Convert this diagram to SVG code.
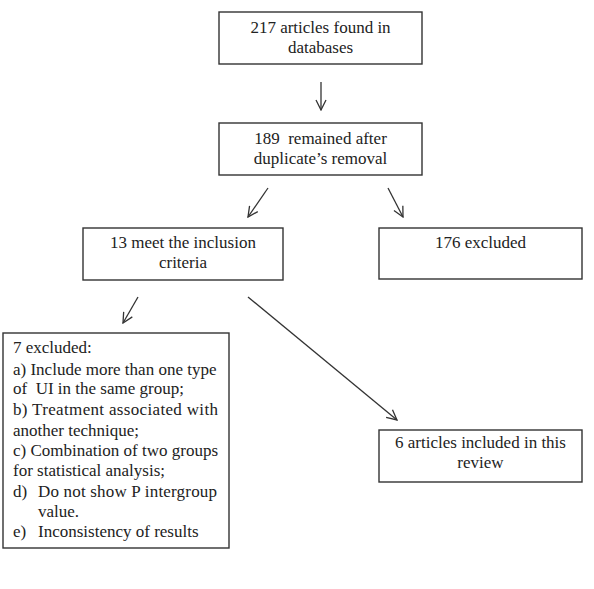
<svg xmlns="http://www.w3.org/2000/svg" width="594" height="589" viewBox="0 0 594 589">
<style>
.box{fill:#fff;stroke:#333;stroke-width:1.4}
.t{font-family:'Liberation Serif','Times New Roman','DejaVu Serif',serif;font-size:17px;fill:#222}
.c{text-anchor:middle}
.conn{stroke:#333;stroke-width:1.3;fill:none;marker-end:url(#arr)}
</style>
<defs>
<marker id="arr" viewBox="0 0 12 12" refX="11" refY="6" markerWidth="12" markerHeight="12" markerUnits="userSpaceOnUse" orient="auto">
<path d="M1,1 L11,6 L1,11" fill="none" stroke="#333" stroke-width="1.3"/>
</marker>
</defs>
<rect width="594" height="589" fill="#fff"/>
<g id="connectors">
<line class="conn" x1="321" y1="82" x2="321" y2="110"/>
<line class="conn" x1="268" y1="188" x2="248" y2="217"/>
<line class="conn" x1="388" y1="188" x2="403" y2="217"/>
<line class="conn" x1="138" y1="297" x2="123" y2="323"/>
<line class="conn" x1="248" y1="297" x2="397" y2="420"/>
</g>
<g id="n1">
<rect class="box" x="219" y="12" width="203" height="52"/>
<text class="t c" x="320.5" y="33">217 articles found in</text>
<text class="t c" x="320.5" y="53">databases</text>
</g>
<g id="n2">
<rect class="box" x="219" y="123" width="203" height="52"/>
<text class="t c" x="320.5" y="144">189&#160; remained after</text>
<text class="t c" x="320.5" y="164">duplicate’s removal</text>
</g>
<g id="n3">
<rect class="box" x="83" y="228" width="200" height="52"/>
<text class="t c" x="183" y="248">13 meet the inclusion</text>
<text class="t c" x="183" y="268">criteria</text>
</g>
<g id="n4">
<rect class="box" x="379" y="228" width="203" height="51"/>
<text class="t c" x="480.5" y="248">176 excluded</text>
</g>
<g id="n5">
<rect class="box" x="3" y="333" width="226" height="215"/>
<text class="t" x="13" y="353">7 excluded:</text>
<text class="t" x="13" y="375">a) Include more than one type</text>
<text class="t" x="13" y="394">of&#160; UI in the same group;</text>
<text class="t" x="13" y="415" textLength="205" lengthAdjust="spacing">b)  Treatment  associated  with</text>
<text class="t" x="13" y="436">another technique;</text>
<text class="t" x="13" y="456" textLength="205" lengthAdjust="spacing">c) Combination of two groups</text>
<text class="t" x="13" y="476">for statistical analysis;</text>
<text class="t" x="13" y="497">d)</text>
<text class="t" x="38" y="497" textLength="179" lengthAdjust="spacing">Do not show P intergroup</text>
<text class="t" x="38" y="517">value.</text>
<text class="t" x="13" y="537">e)</text>
<text class="t" x="38" y="537">Inconsistency of results</text>
</g>
<g id="n6">
<rect class="box" x="379" y="430" width="203" height="52"/>
<text class="t c" x="480.5" y="448">6 articles included in this</text>
<text class="t c" x="480.5" y="468">review</text>
</g>
</svg>
